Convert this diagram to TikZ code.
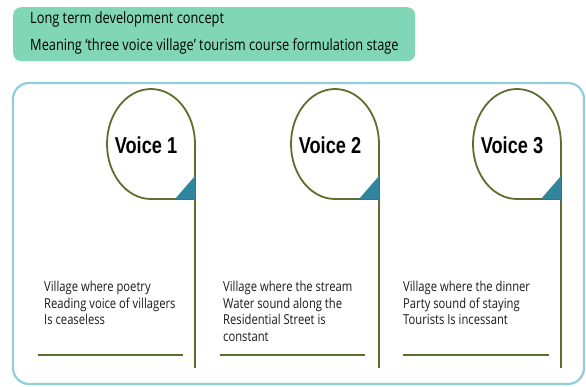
\documentclass[tikz,border=0pt]{standalone}
\usepackage{fontspec}
\setmainfont[FakeStretch=0.82]{Open Sans}
\newfontfamily\voicefont[FakeStretch=0.79]{Liberation Sans}
\definecolor{mint}{RGB}{128,214,182}
\definecolor{frame}{RGB}{146,205,220}
\definecolor{olive}{RGB}{94,110,46}
\definecolor{tealtri}{RGB}{49,133,156}
\begin{document}
\begin{tikzpicture}[x=1pt,y=-1pt,
  drop/.style={draw=olive,line width=1.8pt,fill=white},
  stem/.style={draw=olive,line width=1.6pt},
  tri/.style={fill=tealtri},
  vtext/.style={font=\voicefont\bfseries\fontsize{23}{23}\selectfont,inner sep=0pt},
  desc/.style={anchor=north west,align=left,inner sep=0pt,font=\fontsize{13.7}{16.6}\selectfont,text=black!90},
  top/.style={anchor=west,inner sep=0pt,font=\fontsize{15.6}{18}\selectfont}]
\useasboundingbox (0,0) rectangle (586,386);
% header
\node[fill=mint,rounded corners=8pt,minimum width=402pt,minimum height=54pt,anchor=north west,inner sep=0pt] (hdr) at (13,7) {};
\node[top] (h1) at (30,19) {Long term development concept};
\node[top] (h2) at (30,46) {Meaning ‘three voice village’ tourism course formulation stage};
% frame
\draw[frame,line width=2.2pt,rounded corners=16pt] (13,83) rectangle (584,384);
% voice shapes
\foreach \i/\cx/\hl/\hr in {1/151/38/183, 2/335/220/365, 3/517/403/549}{
  \coordinate (br\i) at (\cx+44,199);
  \coordinate (bot\i) at (\cx+44,368);
  \coordinate (hl\i) at (\hl,355);
  \coordinate (hr\i) at (\hr,355);
  \draw[stem] (br\i) -- (bot\i);
  \draw[stem] (hl\i) -- (hr\i);
  \path[drop] (br\i) -- ++(0,-55) arc[start angle=0,end angle=-270,x radius=44,y radius=55] -- cycle;
  \fill[tri] (br\i) -- ++(0,-23) -- ++(-20,23) -- cycle;
}
\node[vtext] (v1) at (146,145) {Voice 1};
\node[vtext] (v2) at (330,145) {Voice 2};
\node[vtext] (v3) at (512,145) {Voice 3};
\node[desc] (d1) at (44,281) {Village where poetry\\Reading voice of villagers\\Is ceaseless};
\node[desc] (d2) at (223,281) {Village where the stream\\Water sound along the\\Residential Street is\\constant};
\node[desc] (d3) at (403,281) {Village where the dinner\\Party sound of staying\\Tourists Is incessant};
\end{tikzpicture}
\end{document}
